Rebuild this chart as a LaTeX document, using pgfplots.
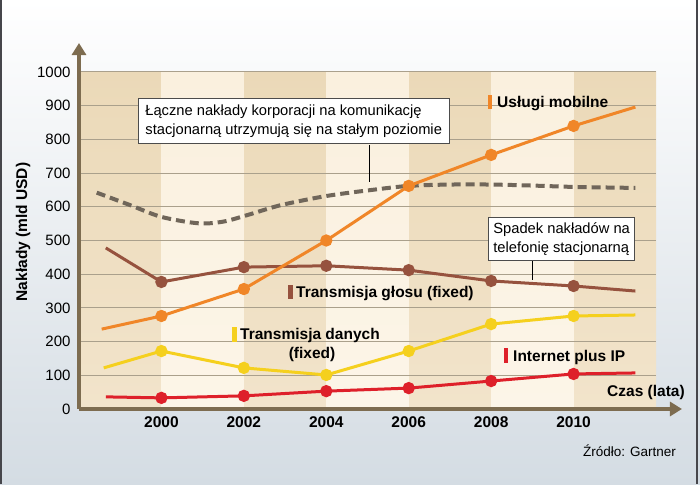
\documentclass[border=0pt]{standalone}
\usepackage{fontspec}
\setmainfont{Liberation Sans}
\usepackage{pgfplots}
\pgfplotsset{compat=1.18}
\usetikzlibrary{arrows.meta}

\definecolor{bgbot}{RGB}{212,220,227}
\definecolor{framec}{RGB}{70,70,75}
\definecolor{tantop}{RGB}{235,217,184}
\definecolor{tanbot}{RGB}{242,228,203}
\definecolor{crmtop}{RGB}{250,240,222}
\definecolor{crmbot}{RGB}{252,245,232}
\definecolor{gridc}{RGB}{170,160,140}
\definecolor{axisc}{RGB}{125,108,80}
\definecolor{mobc}{RGB}{240,134,40}
\definecolor{voicec}{RGB}{150,82,62}
\definecolor{datac}{RGB}{245,208,30}
\definecolor{ipc}{RGB}{222,32,42}
\definecolor{totc}{RGB}{112,102,90}

\newcommand{\lab}{\fontsize{15.5}{18}\bfseries\selectfont}
\newcommand{\note}{\fontsize{14.7}{19}\selectfont}

\begin{document}
\begin{tikzpicture}
\useasboundingbox (0,0) rectangle (700pt,484pt);
\shade[top color=white, bottom color=bgbot] (0,0) rectangle (700pt,484pt);
\fill[framec] (0,0) rectangle (2pt,484pt);
\fill[framec] (696pt,0) rectangle (698pt,484pt);

\begin{axis}[
    scale only axis,
    width=577pt, height=337pt,
    at={(79pt,75pt)}, anchor=south west,
    xmin=1998, xmax=2012, ymin=0, ymax=1000,
    xtick={2000,2002,2004,2006,2008,2010},
    ytick={0,100,...,1000},
    major tick length=0pt,
    axis x line=bottom, axis y line=left,
    axis line style={draw=none},
    /pgf/number format/assume math mode=true,
    /pgf/number format/1000 sep={},
    xticklabel style={font=\fontsize{15.5}{16}\bfseries\selectfont, yshift=-4pt},
    yticklabel style={font=\fontsize{15}{16}\selectfont, xshift=-5pt},
    clip=false,
]
% pasy tla
\pgfplotsinvokeforeach{1998,2002,2006,2010}{
  \shade[top color=tantop, bottom color=tanbot] (axis cs:#1,0) rectangle (axis cs:#1+2,1000);
}
\pgfplotsinvokeforeach{2000,2004,2008}{
  \shade[top color=crmtop, bottom color=crmbot] (axis cs:#1,0) rectangle (axis cs:#1+2,1000);
}
\pgfplotsinvokeforeach{100,200,300,400,500,600,700,800,900,1000}{
  \draw[gridc, line width=1pt] (axis cs:1998,#1) -- (axis cs:2012,#1);
}

% laczne naklady (stacjonarne)
\addplot[totc, line width=4pt, smooth, dash pattern=on 9pt off 5pt] coordinates {
(1998.43,642) (1999.24,605) (2000,570) (2000.9,551) (2001.5,556) (2002.1,576)
(2002.9,605) (2004,632) (2005.1,650) (2006,662) (2007,666) (2008,666)
(2009,663) (2010,659) (2011.5,656)};

% transmisja glosu
\addplot[voicec, line width=3pt, mark=*, mark size=4.6pt, mark indices={2,3,4,5,6,7}] coordinates {
(1998.65,478) (2000,377) (2002,421) (2004,425) (2006,412) (2008,380) (2010,365) (2011.5,350)};

% transmisja danych
\addplot[datac, line width=3pt, mark=*, mark size=4.6pt, mark indices={2,3,4,5,6,7}] coordinates {
(1998.6,122) (2000,172) (2002,122) (2004,101) (2006,172) (2008,252) (2010,276) (2011.5,279)};

% internet plus IP
\addplot[ipc, line width=3pt, mark=*, mark size=4.6pt, mark indices={2,3,4,5,6,7}] coordinates {
(1998.65,36) (2000,33) (2002,39) (2004,53) (2006,62) (2008,83) (2010,104) (2011.5,107)};

% uslugi mobilne
\addplot[mobc, line width=3pt, mark=*, mark size=4.6pt, mark indices={2,3,4,5,6,7}] coordinates {
(1998.55,237) (2000,276) (2002,356) (2004,500) (2006,662) (2008,754) (2010,840) (2011.5,896)};

% osie ze strzalkami
\draw[axisc, line width=3.5pt, -{Triangle[length=12pt,width=14pt]}] (axis cs:1998,0) -- (axis cs:2012.63,0);
\draw[axisc, line width=3.5pt, -{Triangle[length=12pt,width=14pt]}] (axis cs:1998,0) -- (axis cs:1998,1086);
\end{axis}

% opisy serii
\fill[mobc] (488pt,375pt) rectangle (492pt,389pt);
\node[anchor=base west, inner sep=0pt, font=\lab] at (497pt,376pt) {Usługi mobilne};
\fill[voicec] (288pt,185pt) rectangle (293pt,199pt);
\node[anchor=base west, inner sep=0pt, font=\lab] at (296pt,186pt) {Transmisja głosu (fixed)};
\fill[datac] (232pt,142pt) rectangle (237pt,157pt);
\node[anchor=base west, inner sep=0pt, font=\lab] at (240pt,144pt) {Transmisja danych};
\node[anchor=base, inner sep=0pt, font=\lab] at (312pt,125pt) {(fixed)};
\fill[ipc] (504pt,121pt) rectangle (508pt,136pt);
\node[anchor=base west, inner sep=0pt, font=\lab] at (513pt,122pt) {Internet plus IP};
\node[anchor=base west, inner sep=0pt, font=\lab] at (607pt,87pt) {Czas (lata)};
\node[anchor=base west, inner sep=0pt, font=\fontsize{13.5}{15}\selectfont] at (583pt,28pt) {Źródło: Gartner};
\node[rotate=90, font=\lab] at (23pt,252pt) {Nakłady (mld USD)};

% ramki z komentarzami
\draw[black, line width=0.8pt] (369pt,339pt) -- (369pt,302pt);
\node[anchor=north west, draw=black!70, fill=white, line width=0.8pt, align=left,
      inner xsep=7pt, inner ysep=6pt, font=\note] at (138pt,386pt)
  {Łączne nakłady korporacji na komunikację\\stacjonarną utrzymują się na stałym poziomie};
\draw[black, line width=0.8pt] (532pt,225pt) -- (532pt,204pt);
\node[anchor=north west, draw=black!70, fill=white, line width=0.8pt, align=left,
      inner xsep=5pt, inner ysep=5pt, font=\note] at (488pt,267pt)
  {Spadek nakładów na\\telefonię stacjonarną};
\end{tikzpicture}
\end{document}
